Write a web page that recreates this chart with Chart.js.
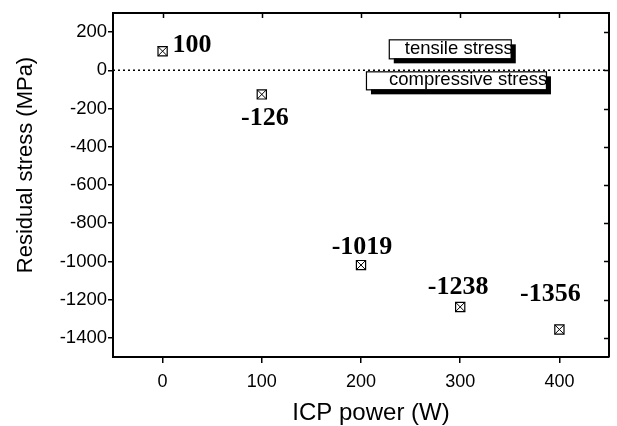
<!DOCTYPE html>
<html>
<head>
<meta charset="utf-8">
<script src="https://cdn.jsdelivr.net/npm/chart.js@4.4.1/dist/chart.umd.min.js"></script>
<style>
  html, body { margin: 0; padding: 0; background: #fff; }
  #wrap { width: 617px; height: 426px; }
</style>
</head>
<body>
<div id="wrap"><canvas id="grafica" width="617" height="426"></canvas></div>
<script>
// datos
const icpPower = [0, 100, 200, 300, 400];
const residualStress = [100, -126, -1019, -1238, -1356];
const stressLabels = ['100', '-126', '-1019', '-1238', '-1356'];
const xTicks = [0, 100, 200, 300, 400];
const yTicks = [-1400, -1200, -1000, -800, -600, -400, -200, 0, 200];
const zeroLine = 0;
const xTitle = 'ICP power (W)';
const yTitle = 'Residual stress (MPa)';

const puntos = icpPower.map((x, i) => ({ x: x, y: residualStress[i] }));

// offsets de las etiquetas (dx, dy, alineacion) relativos al marcador
const labelPos = [
    [10, 1, 'left'],
    [3, 31, 'center'],
    [1, -11, 'center'],
    [-2, -13, 'center'],
    [-9, -28, 'center']
];

const fuente = '"Liberation Sans", Arial, sans-serif';

const extras = {
    id: 'extras',
    afterDraw(chart) {
        const ctx = chart.ctx;
        const a = chart.chartArea;
        const xs = chart.scales.x;
        const ys = chart.scales.y;
        ctx.save();
        // marco arriba y derecha
        ctx.strokeStyle = '#000';
        ctx.lineWidth = 2;
        ctx.beginPath();
        ctx.moveTo(a.left, a.top);
        ctx.lineTo(a.right, a.top);
        ctx.lineTo(a.right, a.bottom);
        ctx.stroke();
        ctx.lineWidth = 1.5;
        xTicks.forEach(v => {
            const px = Math.round(xs.getPixelForValue(v)) + 0.5;
            ctx.beginPath();
            ctx.moveTo(px, a.top);
            ctx.lineTo(px, a.top + 5);
            ctx.stroke();
        });
        yTicks.forEach(v => {
            const py = Math.round(ys.getPixelForValue(v)) + 0.5;
            ctx.beginPath();
            ctx.moveTo(a.right, py);
            ctx.lineTo(a.right - 5, py);
            ctx.stroke();
        });

        // titulos de ejes (algo descentrados como en la figura)
        ctx.fillStyle = '#000';
        ctx.textAlign = 'center';
        ctx.textBaseline = 'alphabetic';
        ctx.font = '24px ' + fuente;
        ctx.fillText(xTitle, (a.left + a.right) / 2 + 10, 420);
        ctx.save();
        ctx.translate(32, (a.top + a.bottom) / 2 - 20);
        ctx.rotate(-Math.PI / 2);
        ctx.font = '22px ' + fuente;
        ctx.fillText(yTitle, 0, 0);
        ctx.restore();

        // etiquetas de valores
        ctx.font = 'bold 26px "Liberation Serif", "Times New Roman", serif';
        puntos.forEach((p, i) => {
            const px = xs.getPixelForValue(p.x);
            const py = ys.getPixelForValue(p.y);
            const [dx, dy, al] = labelPos[i];
            ctx.textAlign = al;
            ctx.fillText(stressLabels[i], px + dx, py + dy);
        });

        // cajas tensile / compressive
        const y0 = ys.getPixelForValue(zeroLine);
        const caja = (x, y, w, h, texto, tx) => {
            ctx.fillStyle = '#000';
            ctx.fillRect(x + 5, y + 5, w, h);
            ctx.fillStyle = '#fff';
            ctx.fillRect(x, y, w, h);
            ctx.strokeStyle = '#000';
            ctx.lineWidth = 1.2;
            ctx.strokeRect(x + 0.5, y + 0.5, w, h);
            ctx.save();
            ctx.beginPath();
            ctx.rect(x, y, w + 2, h);
            ctx.clip();
            ctx.fillStyle = '#000';
            ctx.font = '18.5px ' + fuente;
            ctx.textAlign = 'left';
            ctx.textBaseline = 'alphabetic';
            ctx.fillText(texto, x + tx, y + h - 4);
            ctx.restore();
        };
        const bx1 = xs.getPixelForValue(228);
        const bx2 = xs.getPixelForValue(205);
        caja(bx1, y0 - 31, 122, 19, 'tensile stress', 16);
        caja(bx2, y0 + 1, 180, 18, 'compressive stress', 23);
        ctx.restore();
    }
};

const ctx = document.getElementById('grafica').getContext('2d');

const grafica = new Chart(ctx, {
    type: 'scatter',
    data: {
        datasets: [
            {
                label: 'cruz',
                data: puntos,
                pointStyle: 'crossRot',
                pointRadius: 6.5,
                borderColor: '#000',
                borderWidth: 1
            },
            {
                label: 'Residual stress',
                data: puntos,
                pointStyle: 'rect',
                pointRadius: 6.5,
                borderColor: '#000',
                backgroundColor: '#fff',
                borderWidth: 1.2
            },
            {
                label: 'cero',
                type: 'line',
                data: [{ x: -50, y: zeroLine }, { x: 450, y: zeroLine }],
                borderColor: '#000',
                borderWidth: 1.5,
                borderDash: [2, 3],
                pointRadius: 0,
                fill: false
            }
        ]
    },
    options: {
        responsive: false,
        animation: false,
        layout: { padding: { left: 0, right: 8, top: 13, bottom: 0 } },
        plugins: {
            legend: { display: false },
            tooltip: { enabled: false }
        },
        scales: {
            x: {
                type: 'linear',
                min: -50,
                max: 450,
                afterBuildTicks: s => { s.ticks = xTicks.map(v => ({ value: v })); },
                afterFit: s => { s.height = 69; },
                grid: { drawOnChartArea: false, drawTicks: true, tickLength: 6, color: '#000', lineWidth: 1.5 },
                border: { display: true, color: '#000', width: 2 },
                ticks: { color: '#000', font: { family: fuente, size: 18 }, padding: 8, maxRotation: 0, callback: v => String(v) }
            },
            y: {
                type: 'linear',
                min: -1500,
                max: 300,
                afterBuildTicks: s => { s.ticks = yTicks.map(v => ({ value: v })); },
                afterFit: s => { s.width = 113; },
                grid: { drawOnChartArea: false, drawTicks: true, tickLength: 5, color: '#000', lineWidth: 1.5 },
                border: { display: true, color: '#000', width: 2 },
                ticks: { color: '#000', font: { family: fuente, size: 18.5 }, padding: 1, callback: v => String(v) }
            }
        }
    },
    plugins: [extras]
});
</script>
</body>
</html>
